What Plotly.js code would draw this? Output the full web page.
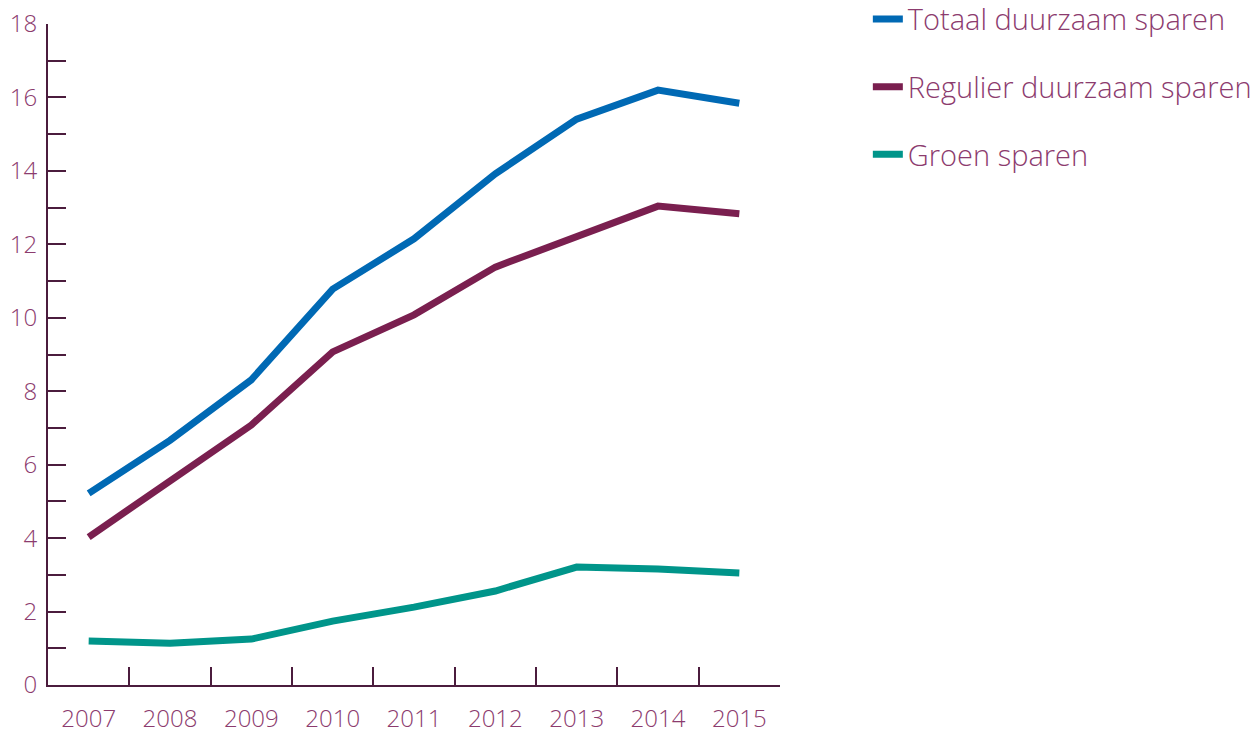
<!DOCTYPE html>
<html><head><meta charset="utf-8">
<script src="https://cdn.plot.ly/plotly-3.0.1.min.js"></script>
<style>html,body{margin:0;padding:0;background:#fff;}#chart{width:1254px;height:733px;}</style>
</head><body><div id="chart"></div>
<script>
const years = ['2007','2008','2009','2010','2011','2012','2013','2014','2015'];
const totaal = [5.22, 6.66, 8.31, 10.78, 12.15, 13.92, 15.41, 16.2, 15.84];
const regulier = [4.03, 5.53, 7.08, 9.07, 10.08, 11.38, 12.2, 13.04, 12.83];
const groen = [1.2, 1.14, 1.25, 1.74, 2.12, 2.56, 3.21, 3.16, 3.05];
const names = ['Totaal duurzaam sparen','Regulier duurzaam sparen','Groen sparen'];
const colors = ['#0069b4','#7a1f4f','#00958a'];
const yTickVals = [0,1,2,3,4,5,6,7,8,9,10,11,12,13,14,15,16,17,18];
const yTickText = ['0','','2','','4','','6','','8','','10','','12','','14','','16','','18'];

const series = [totaal, regulier, groen];
const data = series.map((s,i)=>({
  x: years, y: s, type:'scatter', mode:'lines', name: names[i],
  line:{color:colors[i], width:7}, legendgroup:'g'+i
}));
const fontFam = '"Open Sans", sans-serif';
const layout = {
  width:1254, height:733,
  margin:{l:48, r:474, t:24, b:48, autoexpand:false},
  paper_bgcolor:'#fff', plot_bgcolor:'#fff',
  font:{family:fontFam, color:'#8c3b6e', size:24, weight:300},
  showlegend:true,
  legend:{x:1.12, xanchor:'left', y:1.046, yanchor:'top', font:{size:29, color:'#8c3b6e', family:fontFam, weight:300}, tracegroupgap:27, bgcolor:'rgba(0,0,0,0)'},
  xaxis:{type:'category', range:[-0.5,8.5], showline:true, linecolor:'#4b1c3d', linewidth:2,
    ticks:'inside', tickson:'boundaries', ticklen:18, tickwidth:2, tickcolor:'#4b1c3d',
    showgrid:false, zeroline:false, tickfont:{size:24, color:'#8c3b6e'}, ticklabelstandoff:11, automargin:false, fixedrange:true},
  yaxis:{range:[0,18], tickvals:yTickVals, ticktext:yTickText, showline:true, linecolor:'#4b1c3d', linewidth:2,
    ticks:'inside', ticklen:18, tickwidth:2, tickcolor:'#4b1c3d', showgrid:false, zeroline:false,
    tickfont:{size:24, color:'#8c3b6e'}, ticklabelstandoff:4, automargin:false, fixedrange:true}
};
Plotly.newPlot('chart', data, layout, {displayModeBar:false, staticPlot:true});
</script></body></html>
